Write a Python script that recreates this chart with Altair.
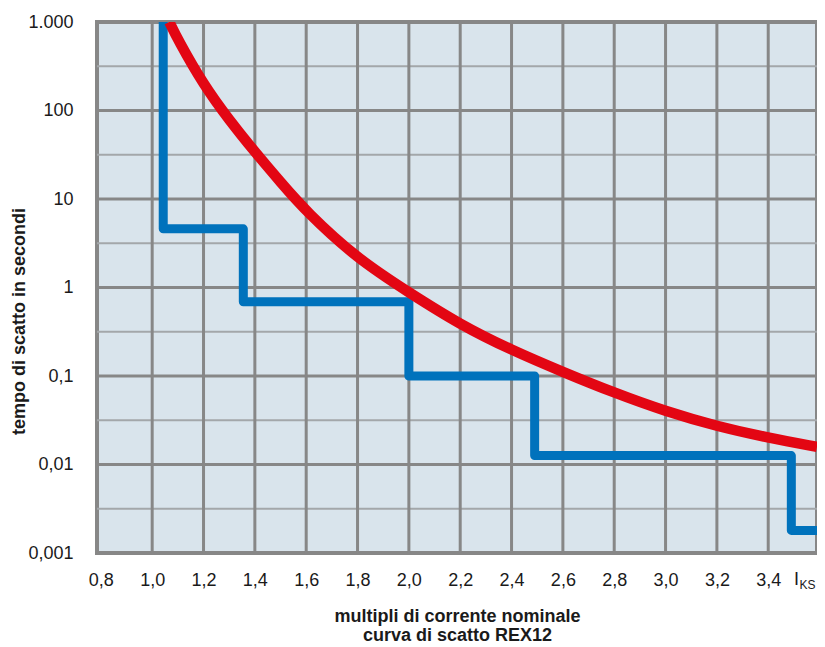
import altair as alt
import pandas as pd

# ---- data ----
x_ticks = [0.8, 1.0, 1.2, 1.4, 1.6, 1.8, 2.0, 2.2, 2.4, 2.6, 2.8, 3.0, 3.2, 3.4]
x_tick_labels = ["0,8", "1,0", "1,2", "1,4", "1,6", "1,8", "2,0", "2,2", "2,4",
                 "2,6", "2,8", "3,0", "3,2", "3,4"]
y_ticks = [0.001, 0.01, 0.1, 1, 10, 100, 1000]
y_tick_labels = ["0,001", "0,01", "0,1", "1", "10", "100", "1.000"]

grid_x = [1.0, 1.2, 1.4, 1.6, 1.8, 2.0, 2.2, 2.4, 2.6, 2.8, 3.0, 3.2, 3.4]
grid_y_major = [0.01, 0.1, 1, 10, 100]
grid_y_minor = [0.00316, 0.0316, 0.316, 3.16, 31.6, 316]

# red tripping curve
curve_x = [1.067, 1.1, 1.2, 1.3, 1.4, 1.5, 1.6, 1.8, 2.0, 2.2, 2.4, 2.6,
           2.8, 3.0, 3.2, 3.4, 3.59]
curve_t = [1000, 631, 195, 78, 34, 15.5, 7.2, 2.1, 0.88, 0.38, 0.196, 0.111,
           0.0645, 0.0398, 0.027, 0.0200, 0.0158]

# blue REX12 step curve (vertices)
rex_x = [1.043, 1.043, 1.355, 1.355, 2.0, 2.0, 2.49, 2.49, 3.49, 3.49, 3.59]
rex_t = [1000, 4.6, 4.6, 0.69, 0.69, 0.1, 0.1, 0.0126, 0.0126, 0.0018, 0.0018]

x_domain = [0.785, 3.59]
y_domain = [0.001, 1000]

ks_x = 3.5
ks_main = "I"
ks_sub = "KS"

x_title = ["multipli di corrente nominale", "curva di scatto REX12"]
y_title = "tempo di scatto in secondi"

# ---- styling ----
FONT = "Liberation Sans"
W, H = 720, 531
DARK = "#878787"
LIGHT = "#a3a7aa"
BG = "#d9e4ec"
BLUE = "#0072bc"
RED = "#e30613"
TXT = "#1a1a1a"


def lookup_expr(vals, labels, rel=False):
    expr = "''"
    for v, l in zip(vals, labels):
        if rel:
            cond = f"abs(datum.value/{v} - 1) < 0.01"
        else:
            cond = f"abs(datum.value - {v}) < 0.001"
        expr = f"{cond} ? '{l}' : ({expr})"
    return expr


xs = alt.Scale(domain=x_domain, nice=False, zero=False)
ys = alt.Scale(type="log", domain=y_domain, nice=False)

x_axis = alt.Axis(
    values=x_ticks, labelExpr=lookup_expr(x_ticks, x_tick_labels),
    grid=False, ticks=False, domain=False,
    labelFont=FONT, labelFontSize=18, labelColor=TXT,
    labelBaseline="alphabetic", labelPadding=32, labelFlush=False,
    title=x_title, titleFont=FONT, titleFontSize=18, titleFontWeight="bold",
    titleColor=TXT, titleBaseline="alphabetic", titleY=68,
    titleLineHeight=19,
)
y_axis = alt.Axis(
    values=y_ticks, labelExpr=lookup_expr(y_ticks, y_tick_labels, rel=True),
    grid=False, ticks=False, domain=False,
    labelFont=FONT, labelFontSize=18, labelColor=TXT,
    labelPadding=24, labelFlush=False, labelBaseline="middle",
    title=y_title, titleFont=FONT, titleFontSize=18, titleFontWeight="bold",
    titleColor=TXT, titleAngle=270, titleAlign="center",
    titleBaseline="alphabetic", titleX=-73, titleY=299,
)

X = alt.X("x:Q", scale=xs, axis=x_axis)
Y = alt.Y("t:Q", scale=ys, axis=y_axis)

gx = pd.DataFrame({"x": grid_x})
gmaj = pd.DataFrame({"t": grid_y_major})
gmin = pd.DataFrame({"t": grid_y_minor})
curve = pd.DataFrame({"x": curve_x, "t": curve_t, "i": range(len(curve_x))})
rex = pd.DataFrame({"x": rex_x, "t": rex_t, "i": range(len(rex_x))})

minor = alt.Chart(gmin).mark_rule(color=LIGHT, strokeWidth=2).encode(y=Y)
major = alt.Chart(gmaj).mark_rule(color=DARK, strokeWidth=3).encode(y=Y)
vert = alt.Chart(gx).mark_rule(color=DARK, strokeWidth=3).encode(x=X)

blue = alt.Chart(rex).mark_line(color=BLUE, strokeWidth=9, strokeJoin="round",
                                strokeCap="butt", clip=True).encode(
    x=X, y=Y, order="i:Q")
red = alt.Chart(curve).mark_line(color=RED, strokeWidth=10.5, interpolate="basis",
                                 strokeCap="butt", clip=True).encode(
    x=X, y=Y, order="i:Q")

ks_df = pd.DataFrame({"x": [ks_x], "a": [ks_main], "b": [ks_sub]})
ks1 = alt.Chart(ks_df).mark_text(font=FONT, fontSize=18, color=TXT, align="left",
                                  baseline="alphabetic").encode(
    x=X, y=alt.value(H + 32), text="a:N")
ks2 = alt.Chart(ks_df).mark_text(font=FONT, fontSize=12, color=TXT, align="left",
                                  baseline="alphabetic", dx=5.5).encode(
    x=X, y=alt.value(H + 36), text="b:N")

chart = alt.layer(minor, major, vert, blue, red, ks1, ks2).properties(
    width=W, height=H, autosize=alt.AutoSizeParams(type="none"),
    padding={"left": 89, "top": 14, "right": 0, "bottom": 92},
    background="white",
).configure_view(fill=BG, stroke=DARK, strokeWidth=4)

chart.save("out.html", embed_options={"renderer": "svg", "actions": False})
